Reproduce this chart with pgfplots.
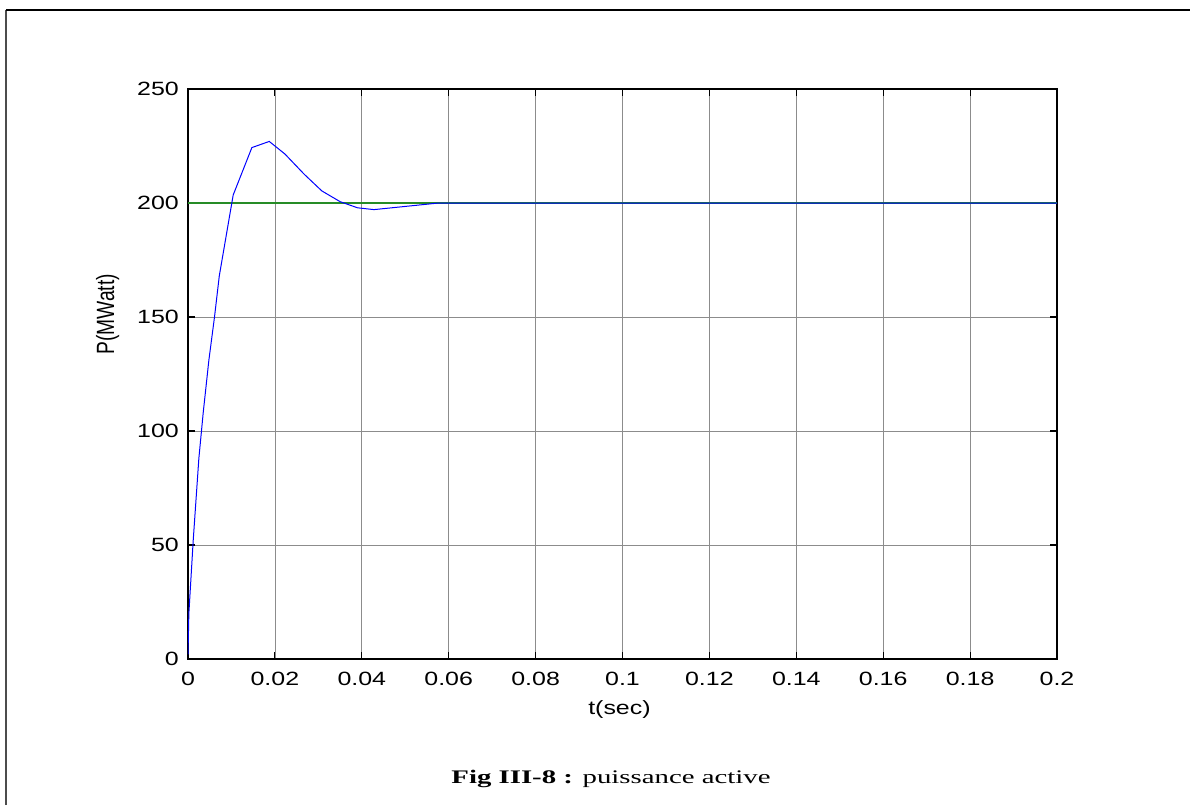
\documentclass[border=0pt]{standalone}
\usepackage{pgfplots}
\pgfplotsset{compat=1.18}
\usepackage{fontspec}
\setmainfont{Liberation Sans}
\newfontfamily\capfont{Liberation Serif}
\definecolor{mgreen}{rgb}{0.15,0.55,0.15}
\begin{document}
\begin{tikzpicture}
\begin{axis}[name=ax, at={(0,0)}, anchor=south west,
  scale only axis, width=434.5pt, height=285pt,
  xmin=0, xmax=0.2, ymin=0, ymax=250,
  xtick={0,0.02,0.04,0.06,0.08,0.1,0.12,0.14,0.16,0.18,0.2},
  xticklabels={0,0.02,0.04,0.06,0.08,0.1,0.12,0.14,0.16,0.18,0.2},
  ytick={0,50,100,150,200,250},
  yticklabels={0,50,100,150,200,250},
  tick align=inside, major tick length=3.5pt,
  tick style={black, line width=0.6pt},
  axis line style={black, line width=0.9pt},
  grid=major, major grid style={black!45, line width=0.35pt},
  ticklabel style={font=\fontsize{9.6}{11}\selectfont, xscale=1.3},
  xticklabel style={yshift=-2.8pt},
  xlabel={t(sec)}, ylabel={P(MWatt)},
  label style={font=\fontsize{9.6}{11}\selectfont},
  xlabel style={at={(axis description cs:0.4965,-0.0895)}, anchor=center, xscale=1.3},
  ylabel style={at={(axis description cs:-0.0925,0.605)}, anchor=center, yscale=1.3},
]
\addplot[mgreen, line width=0.7pt] coordinates {(0,200) (0.2,200)};
\addplot[blue, line width=0.5pt] coordinates {
(0,2) (0.0002,20) (0.0012,52) (0.0025,88) (0.0035,108) (0.0048,131)
(0.0061,150) (0.0072,168) (0.0104,203.5) (0.0147,224.3) (0.0187,227)
(0.0223,221.5) (0.0267,212.7) (0.0308,205.3) (0.035,200.6) (0.039,197.9)
(0.0428,197.1) (0.0572,199.9) (0.06,200) (0.2,200)};
\end{axis}
\useasboundingbox ([shift={(-94pt,-73pt)}]ax.south west) rectangle ++(595pt,402.5pt);
\draw[gray!60!black, line width=0.9pt] ([shift={(-91pt,-73pt)}]ax.south west) -- ([shift={(-91pt,324.5pt)}]ax.south west);
\draw[black, line width=0.6pt] ([shift={(-91pt,324.5pt)}]ax.south west) -- ([shift={(501pt,324.5pt)}]ax.south west);
\node[anchor=base, font=\capfont\fontsize{9.6}{11}\selectfont, xscale=1.5] at ([shift={(211.5pt,-62pt)}]ax.south west) {\textbf{Fig III-8 :} puissance active};
\end{tikzpicture}
\end{document}
